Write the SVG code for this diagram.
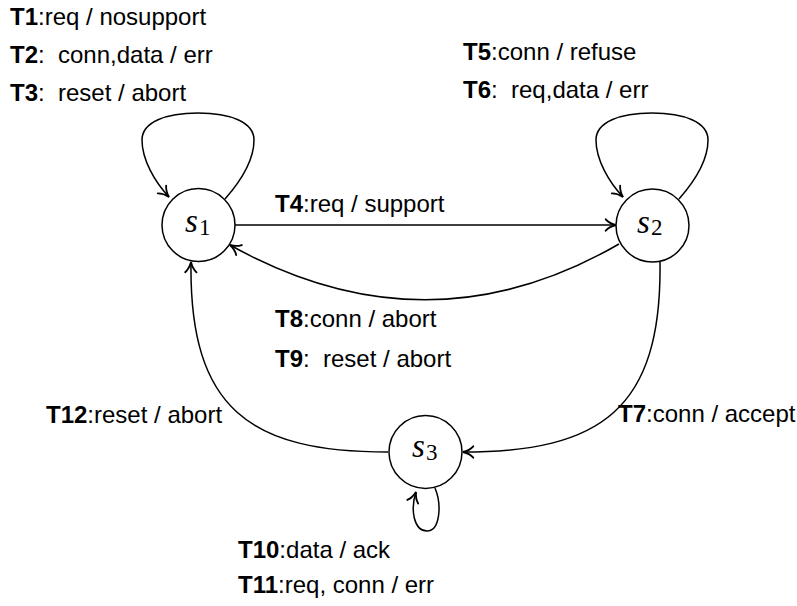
<svg xmlns="http://www.w3.org/2000/svg" width="797" height="606" viewBox="0 0 797 606">
<style>
.lbl{font-family:"Liberation Sans",Arial,sans-serif;font-size:24px;fill:#000;white-space:pre}
.b{font-weight:bold}
.st{fill:#fff;stroke:#000;stroke-width:1.5}
.s{font-family:"Liberation Serif","Times New Roman",serif;font-style:italic;font-size:33px;fill:#000}
.sub{font-family:"Liberation Serif","Times New Roman",serif;font-size:23px;fill:#000}
.e{fill:none;stroke:#000;stroke-width:1.5;marker-end:url(#arr)}
</style>
<defs>
<marker id="arr" markerUnits="userSpaceOnUse" markerWidth="16" markerHeight="16" viewBox="-10 -7 12 14" refX="0" refY="0" orient="auto">
<path d="M-9,-5 C-6.5,-2.2 -2.5,-0.6 0,0 C-2.5,0.6 -6.5,2.2 -9,5" fill="none" stroke="#000" stroke-width="1.6" stroke-linecap="round"/>
</marker>
</defs>
<g id="connectors">
<path class="e" d="M225,199 C240,182 254,160 254,140 C254,122 230,113 198,113 C166,113 142,122 142,140 C142,160 155,182 169,197"/>
<path class="e" d="M679,199 C694,182 708,160 708,140 C708,122 684,113 652,113 C620,113 596,122 596,140 C596,160 609,182 623,197"/>
<path class="e" d="M435,488 C442,505 440,531 427,531 C414,531 410,510 416,492"/>
<path class="e" d="M235,225 L616,225"/>
<path class="e" d="M619,244 Q427,355 230,245"/>
<path class="e" d="M660,262 C662,410 600,452 463,452"/>
<path class="e" d="M388,452 C251,452 189,410 191,262"/>
</g>
<g id="s1">
<circle class="st" cx="198.5" cy="225" r="36.5"/>
<text class="s" x="185" y="232">s</text><text class="sub" x="199" y="235">1</text>
</g>
<g id="s2">
<circle class="st" cx="652.5" cy="225.5" r="36.5"/>
<text class="s" x="637" y="233">s</text><text class="sub" x="651" y="235">2</text>
</g>
<g id="s3">
<circle class="st" cx="425.5" cy="452" r="36.5"/>
<text class="s" x="412" y="457">s</text><text class="sub" x="426" y="460">3</text>
</g>
<g id="labels">
<text class="lbl" x="10" y="25"><tspan class="b">T1</tspan>:req / nosupport</text>
<text class="lbl" x="10" y="63"><tspan class="b">T2</tspan>:  conn,data / err</text>
<text class="lbl" x="10" y="101"><tspan class="b">T3</tspan>:  reset / abort</text>
<text class="lbl" x="463" y="60"><tspan class="b">T5</tspan>:conn / refuse</text>
<text class="lbl" x="463" y="98"><tspan class="b">T6</tspan>:  req,data / err</text>
<text class="lbl" x="275" y="212"><tspan class="b">T4</tspan>:req / support</text>
<text class="lbl" x="275" y="327"><tspan class="b">T8</tspan>:conn / abort</text>
<text class="lbl" x="275" y="367"><tspan class="b">T9</tspan>:  reset / abort</text>
<text class="lbl" x="46" y="423"><tspan class="b">T12</tspan>:reset / abort</text>
<text class="lbl" x="618" y="422"><tspan class="b">T7</tspan>:conn / accept</text>
<text class="lbl" x="238" y="558"><tspan class="b">T10</tspan>:data / ack</text>
<text class="lbl" x="238" y="593"><tspan class="b">T11</tspan>:req, conn / err</text>
</g>
</svg>
